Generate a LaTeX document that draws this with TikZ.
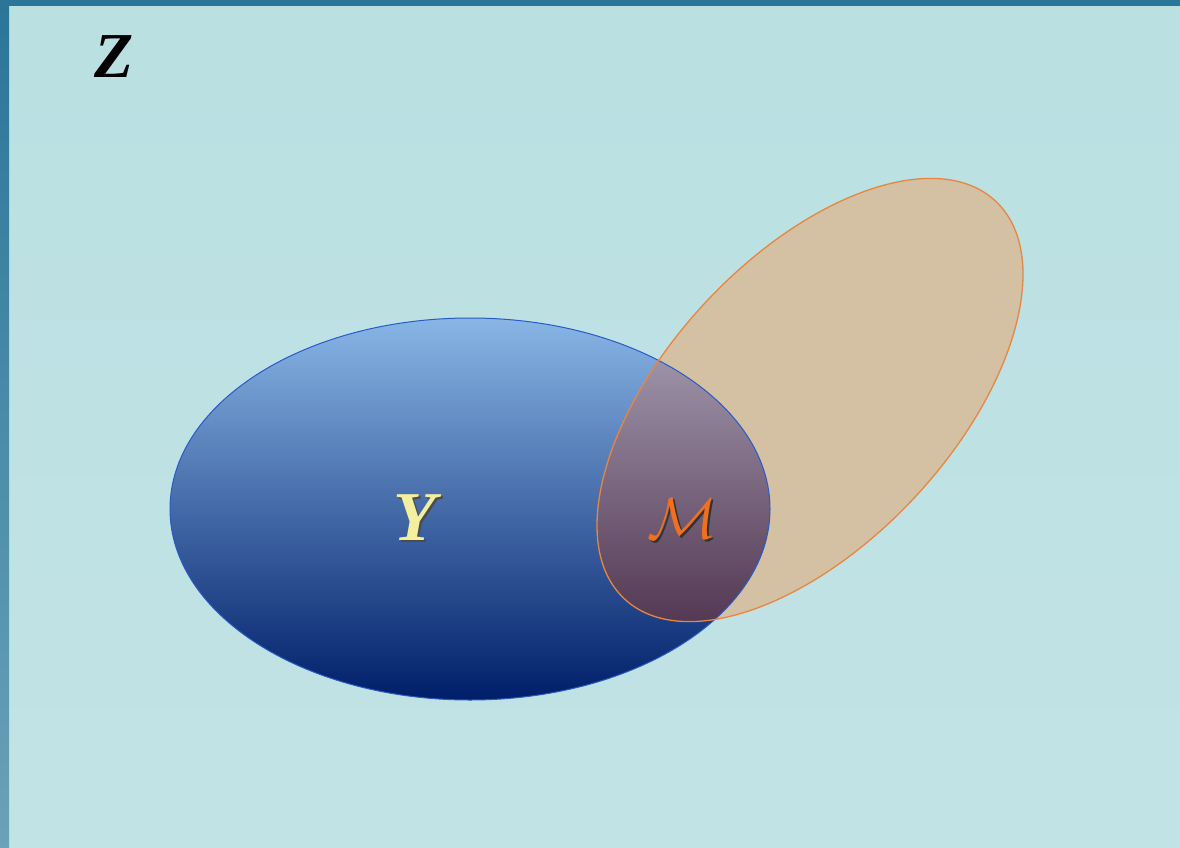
\documentclass[tikz,border=0pt]{standalone}
\usepackage{fontspec}
\newfontfamily\serifbi{Liberation Serif}[BoldItalicFont={* Bold Italic}]
\newcommand{\scrM}{\scalebox{5.8}{$\mathcal{M}$}}
\definecolor{bgtop}{RGB}{186,224,226}
\definecolor{bgbot}{RGB}{194,227,230}
\definecolor{frame}{RGB}{42,117,152}
\definecolor{framelow}{RGB}{106,162,184}
\definecolor{bluetop}{RGB}{136,182,230}
\definecolor{bluemid}{RGB}{72,118,190}
\definecolor{bluebot}{RGB}{0,30,105}
\definecolor{blueedge}{RGB}{40,90,200}
\definecolor{tan}{RGB}{212,192,162}
\definecolor{orangeedge}{RGB}{232,134,64}
\definecolor{ovtop}{RGB}{168,160,180}
\definecolor{ovbot}{RGB}{62,30,58}
\definecolor{ylw}{RGB}{242,240,160}
\definecolor{mor}{RGB}{240,112,32}
\tikzset{
  setlabel/.style={inner sep=0pt, anchor=center},
  bigserif/.style={font=\fontsize{70}{70}\selectfont\serifbi\bfseries\itshape},
  bigscript/.style={font=\normalsize},
}
\begin{document}
\begin{tikzpicture}[x=1pt,y=-1pt]
\useasboundingbox (0,0) rectangle (1180,848);
% background
\shade[top color=bgtop, bottom color=bgbot] (0,0) rectangle (1180,848);
\shade[top color=frame, bottom color=framelow] (0,0) rectangle (9,848);
\fill[frame] (0,0) rectangle (1180,6);
% Y set
\shade[top color=bluetop, middle color=bluemid, bottom color=bluebot]
  (470,509) ellipse [x radius=300, y radius=191];
% M set
\fill[tan, rotate around={47:(810,400)}] (810,400) ellipse [x radius=272, y radius=143];
% overlap
\begin{scope}
  \clip (470,509) ellipse [x radius=300, y radius=191];
  \clip[rotate around={47:(810,400)}] (810,400) ellipse [x radius=272, y radius=143];
  \shade[top color=ovtop, bottom color=ovbot] (560,318) rectangle (800,700);
\end{scope}
\draw[blueedge, line width=1pt] (470,509) ellipse [x radius=300, y radius=191];
\draw[orangeedge, line width=1.3pt, rotate around={47:(810,400)}] (810,400) ellipse [x radius=272, y radius=143];
% labels
\node[setlabel, text=black, font=\fontsize{64}{64}\selectfont\serifbi\bfseries\itshape] (Z) at (114,57) {Z};
\node[setlabel, bigserif, text=black!70] (Yshadow) at (417,520) {Y};
\node[setlabel, bigserif, text=ylw] (Y) at (415,518) {Y};
\node[setlabel, bigscript, text=black!80] (Mshadow) at (684,521) {\scrM};
\node[setlabel, bigscript, text=mor] (M) at (682,519) {\scrM};
\end{tikzpicture}
\end{document}
